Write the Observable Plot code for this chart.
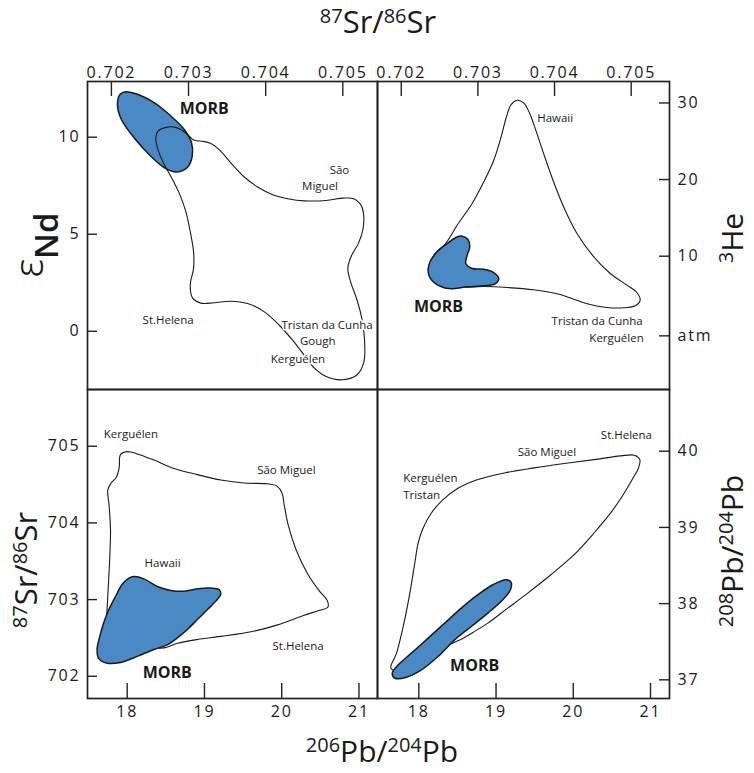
<!DOCTYPE html>
<html><head><meta charset="utf-8">
<script src="https://cdn.jsdelivr.net/npm/d3@7"></script>
<script src="https://cdn.jsdelivr.net/npm/@observablehq/plot@0.6"></script>
<style>
html,body{margin:0;padding:0;background:#fff;overflow:hidden}
#wrap{position:relative;width:754px;height:773px;font-family:"Open Sans",sans-serif;color:#1a1a1a}
#wrap svg{position:absolute;left:0;top:0}
g[aria-label$="tick label"]{letter-spacing:1.8px}
g[aria-label="site label"]{letter-spacing:0.3px}
</style></head><body><div id="wrap"></div>
<script>
// ---------- tick values and labels ----------
const srTicks = [0.702, 0.703, 0.704, 0.705];
const srTickLabels = ["0.702", "0.703", "0.704", "0.705"];
const ndTicks = [0, 5, 10];
const ndTickLabels = ["0", "5", "10"];
const heTicks = [-0.4, 10, 20, 30];
const heTickLabels = ["atm", "10", "20", "30"];
const pb6Ticks = [18, 19, 20, 21];
const pb6TickLabels = ["18", "19", "20", "21"];
const srBTicks = [702, 703, 704, 705];
const srBTickLabels = ["702", "703", "704", "705"];
const pb8Ticks = [37, 38, 39, 40];
const pb8TickLabels = ["37", "38", "39", "40"];

// ---------- panel 1: eNd vs 87Sr/86Sr ----------
const tlMorbSr = [0.702186,0.702338,0.702554,0.702771,0.702944,0.703039,0.703048,0.702987,0.702848,0.702706,0.702511,0.702294,0.702130,0.702078,0.702113];
const tlMorbNd = [12.34,12.21,11.78,11.09,10.40,9.71,9.02,8.45,8.21,8.38,9.02,9.97,10.91,11.69,12.21];
const tlFieldSr = [0.702727,0.702610,0.702576,0.702597,0.702675,0.702771,0.702879,0.702965,0.703022,0.703065,0.703065,0.703022,0.703052,0.703160,0.703333,0.703550,0.703766,0.703983,0.704177,0.704351,0.704502,0.704632,0.704784,0.705000,0.705186,0.705273,0.705281,0.705247,0.705186,0.705108,0.705065,0.705117,0.705203,0.705264,0.705268,0.705229,0.705143,0.705000,0.704784,0.704502,0.704286,0.704091,0.703918,0.703723,0.703550,0.703398,0.703290,0.703182,0.703074,0.702987,0.702900,0.702805];
const tlFieldNd = [10.52,10.34,9.97,9.45,8.67,7.98,7.12,6.17,5.14,4.10,3.24,2.38,1.72,1.45,1.47,1.55,1.43,1.00,0.31,-0.47,-1.24,-1.90,-2.33,-2.50,-2.24,-1.59,-0.38,0.66,1.60,2.47,3.24,3.93,4.53,5.31,6.09,6.55,6.83,6.86,6.74,6.72,6.83,7.03,7.38,7.95,8.67,9.36,9.67,9.79,9.84,10.14,10.40,10.53];
const tlLabelText = ["MORB","São","Miguel","St.Helena","Tristan da Cunha","Gough","Kerguélen"];
const tlLabelSr = [0.703204,0.704957,0.704705,0.702736,0.704796,0.704675,0.704419];
const tlLabelNd = [11.46,8.28,7.46,0.54,0.33,-0.53,-1.47];
const tlLabelAnchor = ["middle","middle","middle","middle","middle","middle","middle"];

// ---------- panel 2: 3He vs 87Sr/86Sr ----------
const trMorbSr = [0.702795,0.702868,0.702894,0.702860,0.702842,0.702925,0.703077,0.703207,0.703272,0.703229,0.703077,0.702860,0.702621,0.702447,0.702360,0.702360,0.702447,0.702599,0.702721];
const trMorbHe = [12.61,12.22,11.22,10.13,9.04,8.39,8.30,7.87,7.09,6.43,6.13,6.00,5.78,6.43,7.52,8.83,10.35,11.65,12.48];
const trFieldSr = [0.702578,0.702729,0.702925,0.703077,0.703207,0.703303,0.703372,0.703433,0.703511,0.703598,0.703676,0.703763,0.703858,0.703980,0.704119,0.704293,0.704501,0.704727,0.704944,0.705074,0.705117,0.705053,0.704901,0.704684,0.704466,0.704249,0.704032,0.703728,0.703381,0.703077,0.702773,0.702534,0.702382,0.702373,0.702460];
const trFieldHe = [11.65,14.04,16.87,19.70,22.52,25.57,28.17,29.78,30.35,30.00,28.61,26.22,23.39,19.91,16.43,12.96,10.04,7.74,6.22,5.26,4.26,3.52,3.26,3.30,3.70,4.39,5.09,5.61,5.91,6.04,5.96,6.22,7.30,9.04,10.57];
const trLabelText = ["Hawaii","MORB","Tristan da Cunha","Kerguélen"];
const trLabelSr = [0.704008,0.702486,0.705151,0.705164];
const trLabelHe = [27.99,3.44,1.49,-0.77];
const trLabelAnchor = ["middle","middle","end","end"];

// ---------- panel 3: 87Sr/86Sr vs 206Pb/204Pb ----------
const blMorbPb = [18.087,18.216,18.390,18.563,18.736,18.909,19.082,19.190,19.212,19.147,19.039,18.909,18.779,18.649,18.519,18.346,18.130,17.913,17.740,17.632,17.610,17.645,17.697,17.762,17.848,17.935,18.022];
const blMorbSr = [703.30,703.27,703.17,703.12,703.11,703.14,703.15,703.13,703.07,702.98,702.87,702.74,702.61,702.50,702.41,702.35,702.26,702.18,702.17,702.23,702.35,702.52,702.70,702.87,703.04,703.20,703.28];
const blFieldPb = [17.913,18.000,18.130,18.346,18.606,18.909,19.212,19.515,19.818,19.939,20.004,20.035,20.087,20.186,20.338,20.489,20.589,20.597,20.489,20.273,19.948,19.602,19.212,18.909,18.649,18.476,18.000,17.719,17.732,17.753,17.775,17.784,17.766,17.749,17.792,17.861,17.896];
const blFieldSr = [704.89,704.93,704.90,704.82,704.71,704.63,704.56,704.52,704.51,704.48,704.39,704.22,703.96,703.65,703.33,703.11,702.99,702.90,702.86,702.79,702.67,702.58,702.52,702.48,702.43,702.37,702.43,702.70,702.78,703.13,703.57,703.91,704.22,704.43,704.52,704.60,704.72];
const blLabelText = ["Kerguélen","São Miguel","Hawaii","St.Helena","MORB"];
const blLabelPb = [18.048,20.061,18.458,20.212,18.519];
const blLabelSr = [705.15,704.68,703.47,702.39,702.05];
const blLabelAnchor = ["middle","middle","middle","middle","middle"];

// ---------- panel 4: 208Pb/204Pb vs 206Pb/204Pb ----------
const brMorbPb6 = [19.130,19.195,19.186,19.087,18.894,18.679,18.464,18.249,18.034,17.841,17.691,17.656,17.734,17.905,18.120,18.335,18.550,18.765,18.958];
const brMorbPb8 = [38.314,38.279,38.182,38.051,37.876,37.700,37.525,37.306,37.131,37.035,37.021,37.087,37.197,37.350,37.547,37.744,37.941,38.117,38.248];
const brFieldPb6 = [17.639,17.712,17.798,17.884,17.948,17.991,18.056,18.163,18.314,18.507,18.765,19.109,19.495,19.882,20.269,20.613,20.793,20.862,20.845,20.763,20.634,20.484,20.269,20.011,19.710,19.410,19.152,18.894,18.700,18.550,18.120,17.777];
const brFieldPb8 = [37.153,37.350,37.700,38.138,38.533,38.795,38.993,39.190,39.365,39.514,39.628,39.715,39.781,39.838,39.890,39.939,39.947,39.890,39.781,39.628,39.409,39.190,38.927,38.642,38.379,38.138,37.941,37.744,37.622,37.534,37.341,37.109];
const brLabelText = ["St.Helena","São Miguel","Kerguélen","Tristan","MORB"];
const brLabelPb6 = [20.688,19.659,17.797,17.797,18.723];
const brLabelPb8 = [40.215,39.992,39.651,39.419,37.182];
const brLabelAnchor = ["middle","middle","start","start","middle"];

// ---------- drawing ----------
const W = 754, H = 773;
const BLUE = "#4a89c3";
const INK = "#1a1a1a";

function field(xs, ys) {
  return Plot.line(xs, {x: xs, y: ys, curve: "catmull-rom-closed", stroke: INK, strokeWidth: 1.1, fill: "none"});
}
function morb(xs, ys) {
  return Plot.line(xs, {x: xs, y: ys, curve: "catmull-rom-closed", stroke: INK, strokeWidth: 1.5, fill: BLUE});
}
function labelMarks(texts, xs, ys, anchors) {
  const marks = [];
  const groups = d3.groups(d3.range(texts.length), i => anchors[i] + "|" + (texts[i] === "MORB"));
  for (const [key, idx] of groups) {
    const [anchor, bold] = key.split("|");
    const isBold = bold === "true";
    marks.push(Plot.text(idx, {
      x: i => xs[i], y: i => ys[i], text: i => texts[i],
      textAnchor: anchor,
      fontSize: isBold ? 16 : 11.5,
      fontWeight: isBold ? 700 : 400,
      fill: INK,
      stroke: isBold ? null : "white",
      strokeWidth: isBold ? null : 3,
      ariaLabel: "site label"
    }));
  }
  return marks;
}

function panel(o) {
  const [l, r, t, b] = o.box;
  const iw = r - l, ih = b - t;
  const top = o.xAnchor === "top", left = o.yAnchor === "left";
  const xFmt = new Map(o.xTicks.map((v, i) => [v, o.xLabels[i]]));
  const yFmt = new Map(o.yTicks.map((v, i) => [v, o.yLabels[i]]));
  const xTickOpts = {x: d => d, stroke: "#222", strokeWidth: 1.4};
  xTickOpts[top ? "insetBottom" : "insetTop"] = ih - 15;
  const yTickOpts = {y: d => d, stroke: "#222", strokeWidth: 1.4};
  yTickOpts[left ? "insetRight" : "insetLeft"] = iw - 10;
  return Plot.plot({
    width: W, height: H,
    marginLeft: l, marginRight: W - r, marginTop: t, marginBottom: H - b,
    x: {domain: o.xDomain}, y: {domain: o.yDomain},
    style: "background:transparent;overflow:visible;font-family:'Open Sans',sans-serif;color:#1a1a1a",
    marks: [
      ...o.shapes,
      ...o.labels,
      Plot.frame({stroke: "#222", strokeWidth: 1.7}),
      Plot.tickX(o.xTicks, xTickOpts),
      Plot.tickY(o.yTicks, yTickOpts),
      Plot.axisX(o.xTicks, {anchor: o.xAnchor, tickSize: 0, tickPadding: top ? 4 : 7, tickFormat: d => xFmt.get(d), fontSize: 16, label: null}),
      Plot.axisY(o.yTicks, {anchor: o.yAnchor, tickSize: 0, tickPadding: left ? 7 : 8, tickFormat: d => yFmt.get(d), fontSize: 16, label: null})
    ]
  });
}

const wrap = document.getElementById("wrap");

wrap.append(panel({
  box: [87, 377, 81, 389], xDomain: [0.70169, 0.70545], yDomain: [-3.0, 12.87],
  xTicks: srTicks, xLabels: srTickLabels, xAnchor: "top",
  yTicks: ndTicks, yLabels: ndTickLabels, yAnchor: "left",
  shapes: [morb(tlMorbSr, tlMorbNd), field(tlFieldSr, tlFieldNd)],
  labels: labelMarks(tlLabelText, tlLabelSr, tlLabelNd, tlLabelAnchor)
}));
wrap.append(panel({
  box: [377, 669, 81, 389], xDomain: [0.70169, 0.70550], yDomain: [-7.4, 32.8],
  xTicks: srTicks, xLabels: srTickLabels, xAnchor: "top",
  yTicks: heTicks, yLabels: heTickLabels, yAnchor: "right",
  shapes: [field(trFieldSr, trFieldHe), morb(trMorbSr, trMorbHe)],
  labels: labelMarks(trLabelText, trLabelSr, trLabelHe, trLabelAnchor)
}));
wrap.append(panel({
  box: [87, 377, 389, 698], xDomain: [17.486, 21.24], yDomain: [701.71, 705.74],
  xTicks: pb6Ticks, xLabels: pb6TickLabels, xAnchor: "bottom",
  yTicks: srBTicks, yLabels: srBTickLabels, yAnchor: "left",
  shapes: [field(blFieldPb, blFieldSr), morb(blMorbPb, blMorbSr)],
  labels: labelMarks(blLabelText, blLabelPb, blLabelSr, blLabelAnchor)
}));
wrap.append(panel({
  box: [377, 669, 389, 698], xDomain: [17.465, 21.246], yDomain: [36.755, 40.81],
  xTicks: pb6Ticks, xLabels: pb6TickLabels, xAnchor: "bottom",
  yTicks: pb8Ticks, yLabels: pb8TickLabels, yAnchor: "right",
  shapes: [field(brFieldPb6, brFieldPb8), morb(brMorbPb6, brMorbPb8)],
  labels: labelMarks(brLabelText, brLabelPb6, brLabelPb8, brLabelAnchor)
}));

// ---------- axis titles (SVG text with superscript tspans) ----------
// parts: [text, isSuperscript]
const titles = [
  {parts: [["87",1],["Sr/",0],["86",1],["Sr",0]], x: 378, y: 33, rot: false, size: 31},
  {parts: [["206",1],["Pb/",0],["204",1],["Pb",0]], x: 382, y: 762, rot: false, size: 30},
  {parts: [["87",1],["Sr/",0],["86",1],["Sr",0]], x: 37, y: 570, rot: true, size: 31},
  {parts: [["3",1],["He",0]], x: 743, y: 238, rot: true, size: 30},
  {parts: [["208",1],["Pb/",0],["204",1],["Pb",0]], x: 743, y: 551, rot: true, size: 30}
];
const tsvg = d3.create("svg").attr("width", W).attr("height", H)
  .style("overflow", "visible").style("background", "transparent")
  .attr("font-family", "'Open Sans',sans-serif").attr("fill", INK);
for (const t of titles) {
  const txt = tsvg.append("text").attr("text-anchor", "middle").attr("font-size", t.size)
    .attr("x", t.x).attr("y", t.y);
  if (t.rot) txt.attr("transform", `rotate(-90 ${t.x} ${t.y})`);
  let raised = false;
  for (const [s, sup] of t.parts) {
    const ts = txt.append("tspan").text(s);
    if (sup) { ts.attr("font-size", 20); if (!raised) ts.attr("dy", -10); raised = true; }
    else { if (raised) ts.attr("dy", 10); raised = false; }
  }
}
// epsilon-Nd label
{
  const x = 58, y = 245;
  const txt = tsvg.append("text").attr("text-anchor", "middle").attr("x", x).attr("y", y)
    .attr("transform", `rotate(-90 ${x} ${y})`);
  txt.append("tspan").text("ε").attr("font-size", 40).attr("font-family", "'Noto Sans',sans-serif").attr("font-weight", 300).attr("dy", -15);
  txt.append("tspan").text("Nd").attr("font-size", 33).attr("font-weight", 600).attr("dy", 15);
}
wrap.append(tsvg.node());
</script></body></html>
